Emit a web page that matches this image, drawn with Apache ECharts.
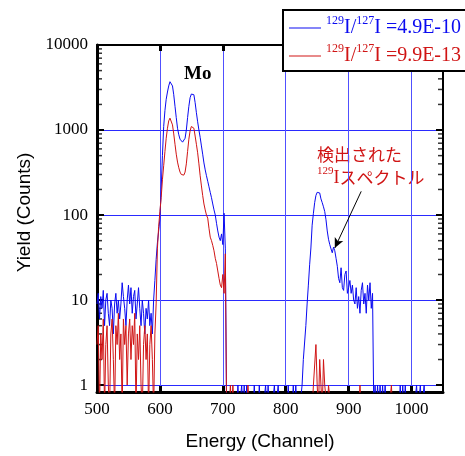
<!DOCTYPE html>
<html>
<head>
<meta charset="utf-8">
<script src="https://cdn.jsdelivr.net/npm/echarts@6/dist/echarts.min.js"></script>
<style>
html,body{margin:0;padding:0;background:#fff;}
#main{width:465px;height:456px;}
</style>
</head>
<body>
<div id="main"></div>
<script>
//チャンネル (500 から 2 ch おき)
var chStart = 500, chStep = 2;
var xMin = 500, xMax = 1050;
var yMin = 0.83, yMax = 10000;
//カウント数 0 は対数軸の下端より下に描く
var zeroFloor = 0.5;

//129I/127I =4.9E-10 の試料
var blueCounts = [
	9, 12, 6, 11, 8, 13, 5, 10, 12, 7,            //500
	5, 10, 8, 4, 9, 12, 7, 10, 6, 9,              //520
	16, 11, 8, 5, 10, 15, 9, 14, 7, 11,           //540
	13, 6, 9, 14, 8, 5, 10, 7, 4, 8,              //560
	6, 10, 5, 7, 4, 10, 17, 30, 47, 65,           //580
	90, 200, 500, 1100, 1700, 2300, 2800, 3300, 3700, 3750,   //600
	3300, 2600, 1900, 1400, 1050, 880, 780, 740, 720, 730,    //620
	800, 1000, 1400, 1900, 2400, 2650, 2750, 2600, 2100, 1600, //640
	1250, 1000, 820, 650, 520, 410, 340, 290, 250, 215,       //660
	185, 160, 135, 115, 100, 80, 65, 55, 50, 60,  //680
	45, 105, 40, 0, 0, 0, 0, 0, 0, 0,             //700
	0, 0, 1, 0, 0, 1, 0, 1, 0, 1,                 //720
	0, 0, 0, 0, 0, 1, 0, 0, 0, 1,                 //740
	0, 0, 0, 0, 1, 0, 1, 0, 0, 0,                 //760
	0, 1, 0, 0, 1, 0, 0, 0, 0, 0,                 //780
	0, 0, 1, 0, 0, 0, 1, 0, 1, 0,                 //800
	0, 0, 0, 1, 2, 2, 5, 9, 15, 26,               //820
	41, 76, 105, 140, 170, 185, 190, 182, 155, 140, //840
	125, 110, 88, 65, 52, 45, 40, 36, 42, 38,     //860
	31, 25, 18, 16, 24, 14, 13, 20, 22, 12,       //880
	14, 17, 12, 15, 10, 9, 14, 8, 11, 7,          //900
	13, 16, 9, 12, 7, 15, 10, 16, 8, 12,          //920
	0, 1, 0, 1, 0, 1, 0, 1, 0, 1,                 //940
	0, 0, 0, 0, 0, 0, 0, 0, 0, 0,                 //960
	0, 1, 0, 1, 0, 1, 0, 0, 0, 0,                 //980
	0, 0, 0, 0, 1, 0, 0, 1, 0, 0,                 //1000
	1, 0, 0, 0, 0, 0, 0, 0, 0, 0,                 //1020
	0                                             //1040
];
//129I/127I =9.9E-13 の試料
var redCounts = [
	3, 5, 0, 4, 2, 6, 0, 3, 5, 1,                 //500
	0, 4, 6, 2, 0, 5, 3, 7, 2, 4,                 //520
	0, 6, 3, 5, 1, 4, 6, 2, 5, 3,                 //540
	7, 0, 4, 2, 5, 1, 0, 3, 5, 2,                 //560
	4, 0, 3, 5, 2, 0, 4, 9, 40, 73,               //580
	110, 160, 260, 380, 560, 800, 1050, 1280, 1380, 1350,     //600
	1150, 900, 680, 520, 420, 360, 320, 300, 290, 295,        //620
	320, 400, 560, 780, 980, 1100, 1150, 1050, 850, 680,      //640
	540, 400, 290, 220, 170, 135, 115, 100, 92, 70,           //660
	55, 50, 44, 38, 31, 27, 22, 18, 15, 14,       //680
	20, 12, 35, 0, 0, 0, 1, 0, 1, 0,              //700
	0, 0, 0, 0, 0, 0, 0, 0, 0, 0,                 //720
	1, 0, 0, 0, 0, 0, 0, 0, 0, 0,                 //740
	0, 0, 0, 0, 0, 0, 0, 0, 0, 0,                 //760
	0, 0, 0, 0, 0, 0, 0, 0, 0, 0,                 //780
	0, 0, 0, 0, 0, 0, 0, 0, 0, 0,                 //800
	0, 0, 0, 0, 0, 0, 0, 0, 0, 0,                 //820
	0, 0, 1, 1, 3, 1, 0, 2, 1, 0,                 //840
	2, 1, 1, 0, 1, 1, 0, 0, 0, 0,                 //860
	0, 0, 0, 0, 0, 0, 0, 0, 0, 0,                 //880
	0, 0, 0, 0, 0, 0, 0, 0, 0, 1,                 //900
	0, 0, 0, 0, 0, 0, 0, 0, 0, 0,                 //920
	0, 0, 0, 0, 0, 0, 0, 0, 0, 0,                 //940
	0, 0, 0, 0, 1, 0, 0, 0, 0, 0,                 //960
	0, 0, 0, 0, 0, 0, 0, 0, 0, 0,                 //980
	0, 0, 0, 0, 0, 0, 0, 0, 0, 0,                 //1000
	0, 0, 0, 0, 0, 0, 0, 0, 0, 0,                 //1020
	0                                             //1040
];
var ratios = ['4.9E-10', '9.9E-13'];
var seriesNames = ['129I/127I =' + ratios[0], '129I/127I =' + ratios[1]];
var seriesColors = ['#0a0af0', '#d01414'];
//対数軸の補助目盛り
var minorTickVals = [2, 3, 4, 5, 6, 7, 8, 9,
	20, 30, 40, 50, 60, 70, 80, 90,
	200, 300, 400, 500, 600, 700, 800, 900,
	2000, 3000, 4000, 5000, 6000, 7000, 8000, 9000];
//矢印 (検出された129Iスペクトル)
var arrowFrom = [920, 190], arrowTo = [878, 41];

var toPoints = function(arr){
	var pts = [];
	for(var i = 0; i < arr.length; i++){
		pts.push([chStart + i * chStep, arr[i] > 0 ? arr[i] : zeroFloor]);
	}
	return pts;
};
//桁区切りなし
var plainNum = function(v){ return String(Math.round(v)); };
var serif = '"Liberation Serif", "Times New Roman", serif';
var sans = '"Liberation Sans", Arial, sans-serif';
var cjk = '"Noto Sans CJK JP", sans-serif';

var myChart = echarts.init(document.getElementById('main'), null, {renderer: 'canvas'});
var option = {
	animation: false,
	backgroundColor: '#fff',
	grid: {left: 97, right: 22, top: 45, bottom: 64},
	legend: {
		data: seriesNames, orient: 'vertical', left: 283, top: 10,
		selectedMode: false, icon: 'rect', itemWidth: 32, itemHeight: 1, itemGap: 5,
		backgroundColor: '#fff', borderColor: '#000', borderWidth: 2, borderRadius: 0,
		padding: [5, 40, 5, 6],
		formatter: function(name){
			var i = seriesNames.indexOf(name);
			var k = i == 0 ? 'b' : 'r';
			return '{' + k + 's|129}{' + k + 'm|I/}{' + k + 's|127}{' + k + 'm|I =' + ratios[i] + '}';
		},
		textStyle: {
			rich: {
				bs: {fontSize: 12, fontFamily: serif, color: seriesColors[0], verticalAlign: 'top', lineHeight: 13},
				bm: {fontSize: 20, fontFamily: serif, color: seriesColors[0], lineHeight: 26},
				rs: {fontSize: 12, fontFamily: serif, color: seriesColors[1], verticalAlign: 'top', lineHeight: 13},
				rm: {fontSize: 20, fontFamily: serif, color: seriesColors[1], lineHeight: 26}
			}
		}
	},
	xAxis: [{
		type: 'value', position: 'bottom', min: xMin, max: xMax, interval: 100,
		name: 'Energy (Channel)', nameLocation: 'middle', nameGap: 40,
		nameTextStyle: {fontFamily: sans, fontSize: 19, color: '#000', padding: [0, 20, 0, 0]},
		axisLine: {show: true, onZero: false, lineStyle: {color: '#000', width: 3}},
		axisTick: {inside: true, length: 6, lineStyle: {color: '#000', width: 3}},
		axisLabel: {fontFamily: serif, fontSize: 17, color: '#000', margin: 9, showMaxLabel: false, formatter: plainNum},
		splitLine: {show: true, lineStyle: {color: '#5050ff', width: 1}}
	}, {
		type: 'value', position: 'top', min: xMin, max: xMax, interval: 100,
		axisLine: {show: true, onZero: false, lineStyle: {color: '#000', width: 2}},
		axisTick: {inside: true, length: 6, lineStyle: {color: '#000', width: 3}},
		axisLabel: {show: false},
		splitLine: {show: false}
	}],
	yAxis: [{
		type: 'log', logBase: 10, position: 'left', min: yMin, max: yMax,
		name: 'Yield (Counts)', nameLocation: 'middle', nameGap: 60,
		nameTextStyle: {fontFamily: sans, fontSize: 19, color: '#000', padding: [0, 0, 0, 12]},
		axisLine: {show: true, onZero: false, lineStyle: {color: '#000', width: 3}},
		axisTick: {inside: true, length: 7, lineStyle: {color: '#000', width: 2}},
		axisLabel: {fontFamily: serif, fontSize: 17, color: '#000', margin: 9, showMinLabel: false, formatter: plainNum},
		splitLine: {show: true, lineStyle: {color: '#2a2aff', width: 1}}
	}, {
		type: 'log', logBase: 10, position: 'right', min: yMin, max: yMax,
		axisLine: {show: true, onZero: false, lineStyle: {color: '#000', width: 2}},
		axisTick: {inside: true, length: 7, lineStyle: {color: '#000', width: 2}},
		axisLabel: {show: false},
		splitLine: {show: false}
	}],
	series: [{
		name: seriesNames[0], type: 'line', data: toPoints(blueCounts),
		showSymbol: false, clip: true, color: seriesColors[0],
		lineStyle: {width: 1, color: seriesColors[0]},
		markLine: {
			silent: true, symbol: ['none', 'arrow'], symbolSize: [7, 10],
			label: {show: false},
			lineStyle: {color: '#000', width: 1, type: 'solid'},
			data: [[{coord: arrowFrom}, {coord: arrowTo}]]
		}
	}, {
		name: seriesNames[1], type: 'line', data: toPoints(redCounts),
		showSymbol: false, clip: true, color: seriesColors[1],
		lineStyle: {width: 1, color: seriesColors[1]}
	}, {
		type: 'scatter', silent: true, clip: false,
		data: minorTickVals.map(function(v){ return [xMin, v]; }),
		symbol: 'rect', symbolSize: [5, 1.5], symbolOffset: [2.5, 0],
		itemStyle: {color: '#000'}
	}, {
		type: 'scatter', silent: true, clip: false,
		data: minorTickVals.map(function(v){ return [xMax, v]; }),
		symbol: 'rect', symbolSize: [5, 1.5], symbolOffset: [-2.5, 0],
		itemStyle: {color: '#000'}
	}],
	graphic: [{
		type: 'text', left: 184, top: 65,
		style: {text: 'Mo', font: 'bold 19px ' + serif, fill: '#000'}
	}, {
		type: 'text', left: 317, top: 146,
		style: {text: '検出された', font: '17px ' + cjk, fill: '#d01414'}
	}, {
		type: 'text', left: 317, top: 166,
		style: {
			text: '{s|129}{m|I}{k|スペクトル}',
			rich: {
				s: {fontSize: 11, fontFamily: serif, fill: '#d01414', verticalAlign: 'top', lineHeight: 12},
				m: {fontSize: 18, fontFamily: serif, fill: '#d01414', lineHeight: 24},
				k: {fontSize: 17, fontFamily: cjk, fill: '#d01414', lineHeight: 24}
			}
		}
	}]
};
myChart.setOption(option);
</script>
</body>
</html>
